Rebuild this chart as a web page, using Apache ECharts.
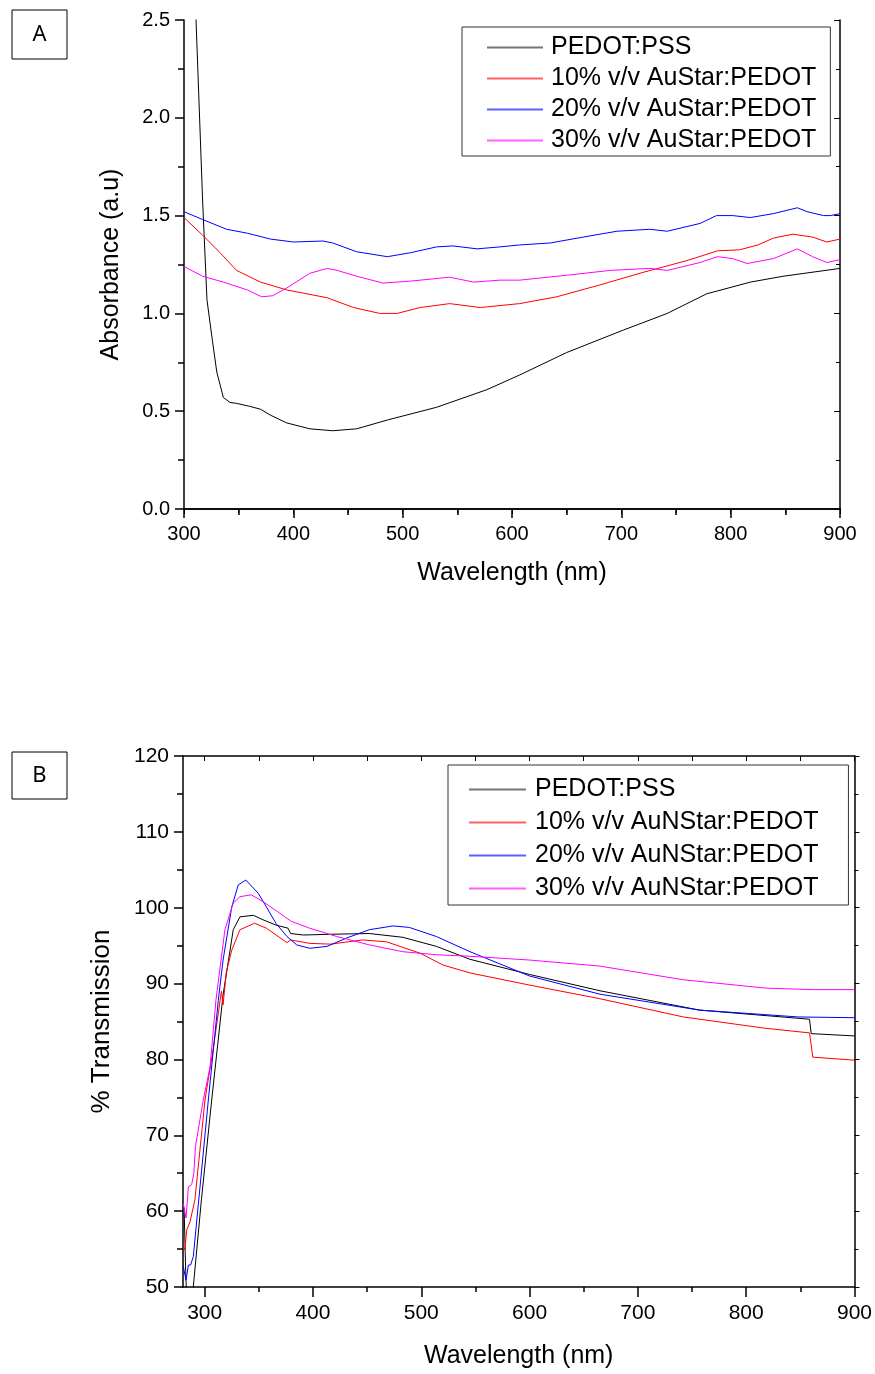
<!DOCTYPE html>
<html>
<head>
<meta charset="utf-8">
<script src="https://cdn.jsdelivr.net/npm/echarts@6/dist/echarts.min.js"></script>
<style>
  html, body { margin: 0; padding: 0; background: #fff; }
  #chart { width: 875px; height: 1374px; }
</style>
</head>
<body>
<div id="chart"></div>
<script>
  // panel A: absorbance, [wavelength nm, absorbance a.u]
  var absPedot = [[300, 4.1], [311, 2.5], [317, 1.58], [321, 1.07], [326, 0.86], [330, 0.70], [336, 0.57],
    [342, 0.545], [348, 0.54], [360, 0.525], [370, 0.51], [379, 0.48], [394, 0.44], [415, 0.41], [436, 0.40],
    [458, 0.41], [486, 0.455], [531, 0.52], [577, 0.61], [607, 0.685], [650, 0.80], [702, 0.915], [742, 1.00],
    [778, 1.10], [818, 1.16], [848, 1.19], [900, 1.23]]
  var abs10 = [[300, 1.49], [317, 1.40], [333, 1.31], [348, 1.22], [370, 1.16], [394, 1.12], [431, 1.08],
    [455, 1.03], [479, 1.00], [495, 1.00], [516, 1.03], [543, 1.05], [571, 1.03], [589, 1.04], [607, 1.05],
    [641, 1.085], [680, 1.145], [720, 1.21], [760, 1.27], [788, 1.32], [808, 1.325], [825, 1.35], [839, 1.385],
    [857, 1.405], [875, 1.39], [888, 1.365], [900, 1.38]]
  var abs20 = [[300, 1.52], [317, 1.48], [339, 1.43], [358, 1.41], [379, 1.38], [400, 1.365], [427, 1.37],
    [436, 1.36], [458, 1.315], [486, 1.29], [507, 1.31], [531, 1.34], [546, 1.345], [568, 1.33], [589, 1.34],
    [607, 1.35], [635, 1.36], [665, 1.39], [696, 1.42], [726, 1.43], [742, 1.42], [772, 1.46], [787, 1.50],
    [802, 1.50], [818, 1.49], [839, 1.51], [861, 1.54], [870, 1.52], [885, 1.50], [891, 1.50], [900, 1.51]]
  var abs30 = [[300, 1.24], [317, 1.19], [336, 1.16], [358, 1.12], [371, 1.085], [381, 1.09], [394, 1.13],
    [415, 1.205], [431, 1.23], [440, 1.22], [458, 1.19], [482, 1.155], [507, 1.165], [543, 1.185], [565, 1.16],
    [589, 1.17], [607, 1.17], [650, 1.195], [690, 1.22], [726, 1.23], [742, 1.22], [772, 1.26], [788, 1.29],
    [802, 1.28], [815, 1.255], [839, 1.28], [861, 1.33], [875, 1.29], [888, 1.26], [900, 1.275]]

  // panel B: transmission, [wavelength nm, % transmission]
  var trPedot = [[281, 60.5], [282.5, 52], [284, 46], [288, 46], [289.5, 50], [297, 61.5], [306.5, 74.65],
    [317, 88.5], [326.4, 97.1], [332.6, 98.8], [345, 99.0], [354, 98.4], [366, 97.7], [377, 97.3], [379.4, 96.6],
    [391, 96.4], [416, 96.5], [452, 96.6], [483, 96.1], [514, 94.9], [545, 93.2], [600, 91.2], [665, 89.05],
    [757, 86.5], [858.5, 85.3], [860, 83.4], [900, 83.1]]
  var tr10 = [[280.3, 55.3], [281.8, 54.9], [283.4, 57.5], [286.5, 58.6], [291, 61.5], [300.3, 74.65], [308, 81.5],
    [315.5, 89], [317, 87.2], [320, 91.5], [325, 94.4], [332.6, 97.1], [346, 97.95], [357, 97.3], [366, 96.4],
    [376, 95.4], [379.4, 95.75], [397, 95.3], [416, 95.2], [446, 95.75], [468, 95.5], [499, 94.0], [520, 92.45],
    [545, 91.4], [600, 89.8], [665, 88.0], [742, 85.6], [818, 84.1], [858.5, 83.5], [861.5, 80.3], [900, 79.9]]
  var tr20 = [[280.3, 52.7], [282.8, 50.9], [285, 52.9], [287, 52.9], [289.5, 54.0], [295.7, 63.2], [303.4, 74.65],
    [312.6, 87.8], [317, 93.1], [325, 100.1], [331, 103.0], [338, 103.65], [349.5, 101.9], [357, 100.1],
    [366, 97.9], [376, 96.2], [385, 95.1], [397, 94.65], [413, 94.9], [431, 96.0], [452, 97.1], [474, 97.6],
    [489, 97.4], [514, 96.2], [545, 94.2], [600, 91.0], [665, 88.6], [757, 86.5], [848, 85.6], [900, 85.5]]
  var tr30 = [[280.3, 61.0], [281.8, 60.8], [282.8, 59.1], [285, 63.2], [288, 63.5], [290, 65], [291.5, 68.5],
    [298.7, 74.65], [305, 79], [310.4, 87.8], [318.7, 97.1], [326.4, 100.6], [332.6, 101.45], [343, 101.7],
    [354, 100.8], [366, 99.6], [374, 98.8], [380, 98.2], [397, 97.3], [422, 96.2], [452, 95.1], [483, 94.2],
    [514, 93.8], [545, 93.6], [600, 93.1], [665, 92.3], [742, 90.5], [818, 89.4], [861, 89.2], [900, 89.2]]

  var namesA = ['PEDOT:PSS', '10% v/v AuStar:PEDOT', '20% v/v AuStar:PEDOT', '30% v/v AuStar:PEDOT']
  var namesB = ['PEDOT:PSS', '10% v/v AuNStar:PEDOT', '20% v/v AuNStar:PEDOT', '30% v/v AuNStar:PEDOT']
  var colors = ['#000000', '#ff0000', '#0000ff', '#ff00ff']
  var legendColors = ['#777777', '#ff6060', '#6060ff', '#ff60ff']
  var ticksB = [300, 400, 500, 600, 700, 800, 900]
  var minorTicksB = [350, 450, 550, 650, 750, 850]
  var allTicksB = [300, 350, 400, 450, 500, 550, 600, 650, 700, 750, 800, 850, 900]

  var font = 'Liberation Sans, Arial, sans-serif'
  var line = { show: true, lineStyle: { color: '#000', width: 1.5 } }

  function mkSeries(name, data, color, xi, yi) {
    return {
      name: name,
      type: 'line',
      data: data,
      xAxisIndex: xi,
      yAxisIndex: yi,
      symbol: 'none',
      clip: true,
      color: color,
      lineStyle: { color: color, width: 1 }
    }
  }

  // legend entries carry their own (paler) colour, like the original key
  function legendData(names) {
    return names.map(function (n, i) {
      return { name: n, icon: 'rect', itemStyle: { color: legendColors[i], borderWidth: 0 } }
    })
  }

  var chart = echarts.init(document.getElementById('chart'))
  chart.setOption({
    animation: false,
    backgroundColor: '#fff',
    textStyle: { fontFamily: font },
    grid: [
      { left: 184, top: 20, width: 656, height: 489 },
      { left: 183, top: 756, width: 672, height: 531 }
    ],
    legend: [{
      data: legendData(namesA),
      orient: 'vertical',
      left: 462,
      top: 27,
      padding: [8, 14, 3, 25],
      itemGap: 6,
      itemWidth: 56,
      itemHeight: 2,
      borderColor: '#333',
      borderWidth: 1,
      selectedMode: false,
      textStyle: { fontFamily: font, fontSize: 25, lineHeight: 25, color: '#000', padding: [0, 0, 0, 3] }
    }, {
      data: legendData(namesB),
      orient: 'vertical',
      left: 448,
      top: 765,
      padding: [12, 30, 4, 21],
      itemGap: 8,
      itemWidth: 57,
      itemHeight: 2,
      borderColor: '#333',
      borderWidth: 1,
      selectedMode: false,
      textStyle: { fontFamily: font, fontSize: 25, lineHeight: 25, color: '#000', padding: [0, 0, 0, 4] }
    }],
    xAxis: [{
      gridIndex: 0, type: 'value', position: 'bottom', min: 300, max: 900, interval: 100,
      axisLine: line,
      axisTick: { inside: false, length: 9, lineStyle: { color: '#000', width: 1.5 } },
      minorTick: { show: true, splitNumber: 2, length: 6, lineStyle: { color: '#000', width: 1.5 } },
      splitLine: { show: false },
      axisLabel: { fontSize: 20, color: '#000', margin: 15 },
      name: 'Wavelength (nm)', nameLocation: 'middle', nameGap: 52,
      nameTextStyle: { fontSize: 25, color: '#000' }
    }, {
      gridIndex: 0, type: 'value', position: 'top', min: 300, max: 900, interval: 100,
      axisLine: line,
      axisTick: { inside: true, length: 5, lineStyle: { color: '#000', width: 1 } },
      minorTick: { show: true, splitNumber: 2, length: 4, lineStyle: { color: '#000', width: 1 } },
      splitLine: { show: false },
      axisLabel: { show: false }
    }, {
      gridIndex: 1, type: 'value', position: 'bottom', min: 280, max: 900,
      axisLine: line,
      axisTick: { inside: false, length: 10, customValues: ticksB, lineStyle: { color: '#000', width: 1.5 } },
      splitLine: { show: false },
      axisLabel: { fontSize: 21, color: '#000', margin: 16, customValues: ticksB },
      name: 'Wavelength (nm)', nameLocation: 'middle', nameGap: 57,
      nameTextStyle: { fontSize: 25, color: '#000' }
    }, {
      gridIndex: 1, type: 'value', position: 'bottom', min: 280, max: 900,
      axisLine: { show: false },
      axisTick: { inside: false, length: 5, customValues: minorTicksB, lineStyle: { color: '#000', width: 1.5 } },
      splitLine: { show: false },
      axisLabel: { show: false }
    }, {
      gridIndex: 1, type: 'value', position: 'top', min: 280, max: 900,
      axisLine: line,
      axisTick: { inside: true, length: 5, customValues: allTicksB, lineStyle: { color: '#000', width: 1 } },
      splitLine: { show: false },
      axisLabel: { show: false }
    }],
    yAxis: [{
      gridIndex: 0, type: 'value', position: 'left', min: 0, max: 2.5, interval: 0.5,
      axisLine: line,
      axisTick: { inside: false, length: 9, lineStyle: { color: '#000', width: 1.5 } },
      minorTick: { show: true, splitNumber: 2, length: 6, lineStyle: { color: '#000', width: 1.5 } },
      splitLine: { show: false },
      axisLabel: { fontSize: 20, color: '#000', margin: 14, formatter: function (v) { return v.toFixed(1) } },
      name: 'Absorbance (a.u)', nameLocation: 'middle', nameGap: 60,
      nameTextStyle: { fontSize: 25, color: '#000' }
    }, {
      gridIndex: 0, type: 'value', position: 'right', min: 0, max: 2.5, interval: 0.5,
      axisLine: line,
      axisTick: { inside: true, length: 6, lineStyle: { color: '#000', width: 1 } },
      minorTick: { show: true, splitNumber: 2, length: 4, lineStyle: { color: '#000', width: 1 } },
      splitLine: { show: false },
      axisLabel: { show: false }
    }, {
      gridIndex: 1, type: 'value', position: 'left', min: 50, max: 120, interval: 10,
      axisLine: line,
      axisTick: { inside: false, length: 9, lineStyle: { color: '#000', width: 1.5 } },
      minorTick: { show: true, splitNumber: 2, length: 6, lineStyle: { color: '#000', width: 1.5 } },
      splitLine: { show: false },
      axisLabel: { fontSize: 21, color: '#000', margin: 14 },
      name: '% Transmission', nameLocation: 'middle', nameGap: 68,
      nameTextStyle: { fontSize: 26, color: '#000' }
    }, {
      gridIndex: 1, type: 'value', position: 'right', min: 50, max: 120, interval: 10,
      axisLine: line,
      axisTick: { inside: false, length: 5, lineStyle: { color: '#000', width: 1 } },
      minorTick: { show: true, splitNumber: 2, length: 4, lineStyle: { color: '#000', width: 1 } },
      splitLine: { show: false },
      axisLabel: { show: false }
    }],
    graphic: [
      { type: 'rect', shape: { x: 12, y: 10, width: 55, height: 49 }, style: { fill: '#fff', stroke: '#000', lineWidth: 1 } },
      { type: 'text', x: 39.5, y: 35, style: { text: 'A', font: '22px "Noto Sans"', fill: '#000', align: 'center', verticalAlign: 'middle' } },
      { type: 'rect', shape: { x: 12, y: 752, width: 55, height: 47 }, style: { fill: '#fff', stroke: '#000', lineWidth: 1 } },
      { type: 'text', x: 39.5, y: 776, style: { text: 'B', font: '22px "Noto Sans"', fill: '#000', align: 'center', verticalAlign: 'middle' } }
    ],
    series: [
      mkSeries(namesA[0], absPedot, colors[0], 0, 0),
      mkSeries(namesA[1], abs10, colors[1], 0, 0),
      mkSeries(namesA[2], abs20, colors[2], 0, 0),
      mkSeries(namesA[3], abs30, colors[3], 0, 0),
      mkSeries(namesB[0], trPedot, colors[0], 2, 2),
      mkSeries(namesB[1], tr10, colors[1], 2, 2),
      mkSeries(namesB[2], tr20, colors[2], 2, 2),
      mkSeries(namesB[3], tr30, colors[3], 2, 2)
    ]
  })
</script>
</body>
</html>
